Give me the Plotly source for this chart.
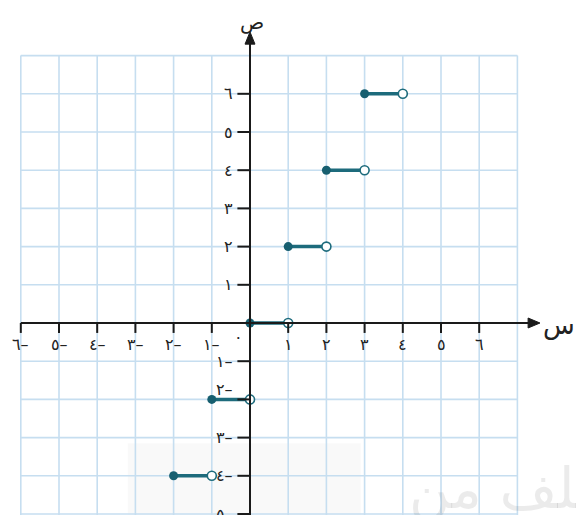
import plotly.graph_objects as go

# ---- data (step function, closed at left end, open at right end) ----
seg_start = [-2, -1, 0, 1, 2, 3]
seg_end = [-1, 0, 1, 2, 3, 4]
seg_y = [-4, -2, 0, 2, 4, 6]

x_ticks = [-6, -5, -4, -3, -2, -1, 1, 2, 3, 4, 5, 6]
x_tick_labels = ["٦–", "٥–", "٤–", "٣–", "٢–", "١–", "١", "٢", "٣", "٤", "٥", "٦"]
y_ticks = [-5, -4, -3, -2, -1, 1, 2, 3, 4, 5, 6]
y_tick_labels = ["٥–", "٤–", "٣–", "٢–", "١–", "١", "٢", "٣", "٤", "٥", "٦"]
grid_x = list(range(-6, 8))
grid_y = list(range(-5, 8))

TEAL = "#1d6b7c"
AXIS = "#1a1a1a"
GRID = "#c6def0"
FONT = "DejaVu Sans"

UNIT = 38.2
PAGE_OFF = 8            # default body margin of the html page
OX, OY = 250 - PAGE_OFF, 323 - PAGE_OFF
W, H = 584, 515
xr = [-OX / UNIT, (W - OX) / UNIT]
yr = [(OY - H) / UNIT, OY / UNIT]

fig = go.Figure()

shapes = []
# faint watermark box
shapes.append(dict(type="rect", x0=-3.2, x1=2.9, y0=-3.15, y1=-5.5,
                   fillcolor="rgba(0,0,0,0.022)", line=dict(width=0), layer="below"))
# grid
for gx in grid_x:
    shapes.append(dict(type="line", x0=gx, x1=gx, y0=-5.5, y1=7,
                       line=dict(color=GRID, width=1.6), layer="below"))
for gy in grid_y:
    shapes.append(dict(type="line", x0=-6, x1=7, y0=gy, y1=gy,
                       line=dict(color=GRID, width=1.6), layer="below"))
# axes
shapes.append(dict(type="line", x0=-6, x1=7.35, y0=0, y1=0, line=dict(color=AXIS, width=2)))
shapes.append(dict(type="path", path="M 7.59 0 L 7.28 0.13 L 7.28 -0.13 Z",
                   fillcolor=AXIS, line=dict(color=AXIS, width=1)))
shapes.append(dict(type="line", x0=0, x1=0, y0=-5.5, y1=7.35, line=dict(color=AXIS, width=2)))
shapes.append(dict(type="path", path="M 0 7.62 L -0.13 7.30 L 0.13 7.30 Z",
                   fillcolor=AXIS, line=dict(color=AXIS, width=1)))
# ticks
for t in x_ticks:
    shapes.append(dict(type="line", x0=t, x1=t, y0=0, y1=-0.26, line=dict(color=AXIS, width=2)))
for t in y_ticks:
    shapes.append(dict(type="line", x0=-0.33, x1=0, y0=t, y1=t, line=dict(color=AXIS, width=2)))

annotations = []
for t, lab in zip(x_ticks, x_tick_labels):
    annotations.append(dict(x=t, y=-0.57, text=lab, showarrow=False,
                            font=dict(family=FONT, size=16, color="#222"),
                            xanchor="center", yanchor="middle"))
for t, lab in zip(y_ticks, y_tick_labels):
    ty = t + 0.25 if t == -2 else t
    annotations.append(dict(x=-0.4, y=ty, text=lab, showarrow=False,
                            font=dict(family=FONT, size=16, color="#222"),
                            xanchor="right", yanchor="middle"))
annotations.append(dict(x=-0.3, y=-0.38, text="٠", showarrow=False,
                        font=dict(family=FONT, size=16, color="#222")))
annotations.append(dict(x=0.05, y=yr[1], text="ص", showarrow=False, yanchor="top",
                        font=dict(family=FONT, size=20, color="#222")))
annotations.append(dict(x=8.1, y=-0.05, text="س", showarrow=False,
                        font=dict(family=FONT, size=26, color="#222")))
# watermark text
annotations.append(dict(x=4.1, y=-4.35, text="ملف من", showarrow=False, xanchor="left",
                        font=dict(family=FONT, size=56, color="rgba(0,0,0,0.08)")))

# segments
for s, e, y in zip(seg_start, seg_end, seg_y):
    fig.add_trace(go.Scatter(x=[s, e], y=[y, y], mode="lines",
                             line=dict(color=TEAL, width=3.5), hoverinfo="skip",
                             showlegend=False))
fig.add_trace(go.Scatter(x=seg_start, y=seg_y, mode="markers",
                         marker=dict(size=9, color="#175f70", line=dict(width=0)),
                         showlegend=False, hoverinfo="skip"))
fig.add_trace(go.Scatter(x=seg_end, y=seg_y, mode="markers",
                         marker=dict(size=9, color="white", line=dict(width=1.6, color=TEAL)),
                         showlegend=False, hoverinfo="skip"))

fig.update_layout(
    width=W, height=H,
    margin=dict(l=0, r=0, t=0, b=0),
    paper_bgcolor="white", plot_bgcolor="white",
    xaxis=dict(range=xr, visible=False, fixedrange=True),
    yaxis=dict(range=yr, visible=False, fixedrange=True),
    shapes=shapes, annotations=annotations,
    showlegend=False,
)
fig.write_html("out.html")
